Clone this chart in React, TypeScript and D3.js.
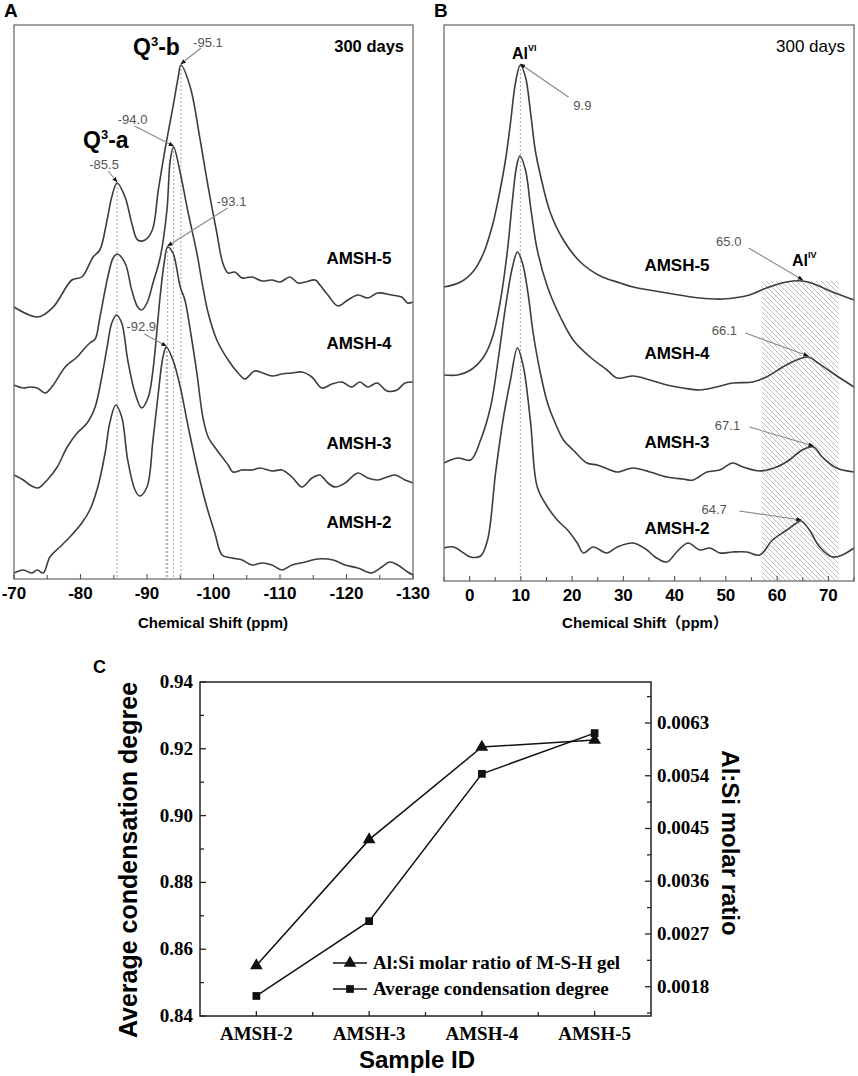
import { useEffect, useRef } from "react";
import * as d3 from "d3";

// panel A: 29Si spectra, [chemical shift ppm, stacked intensity a.u.]
const siAMSH5: [number, number][] = [
  [-70, 272], [-73.6, 262], [-75.9, 272], [-78.7, 299], [-80.2, 302], [-81.9, 322], [-82.9, 329],
  [-84.0, 359], [-84.7, 382], [-85.5, 396], [-86.7, 382], [-87.7, 356], [-88.6, 339], [-89.7, 339],
  [-90.8, 349], [-91.7, 389], [-92.7, 429], [-93.9, 472], [-94.7, 502], [-95.1, 514], [-96.5, 492],
  [-98.0, 439], [-99.2, 392], [-100.5, 346], [-101.4, 316], [-102.2, 306], [-103.2, 307], [-104.3, 301],
  [-105.8, 302], [-107.3, 298], [-108.8, 299], [-110.0, 297], [-111.5, 302], [-112.7, 296], [-113.8, 297],
  [-115.3, 299], [-116.0, 294], [-117.2, 284], [-118.7, 273], [-120.2, 279], [-121.7, 284], [-123.2, 281],
  [-124.7, 286], [-126.8, 284], [-128.3, 282], [-129.2, 276], [-130, 277],
];
const siAMSH4: [number, number][] = [
  [-70, 194], [-71.4, 191], [-72.4, 192], [-73.5, 191], [-74.7, 186], [-75.9, 194], [-77.7, 212],
  [-79.5, 222], [-80.4, 229], [-81.4, 236], [-82.2, 240], [-82.9, 261], [-84.1, 302], [-84.9, 321],
  [-85.5, 325], [-86.7, 316], [-87.7, 289], [-88.6, 272], [-89.2, 269], [-90.0, 276], [-90.9, 296],
  [-92.0, 322], [-93.0, 369], [-93.5, 419], [-94.0, 432], [-95.0, 406], [-96.2, 366], [-97.5, 326],
  [-98.4, 292], [-99.2, 266], [-100.5, 239], [-102.2, 219], [-103.7, 206], [-104.7, 200], [-106.2, 208],
  [-107.4, 206], [-108.8, 203], [-110.3, 205], [-111.8, 206], [-113.3, 207], [-114.8, 202], [-116.3, 191],
  [-117.8, 195], [-119.3, 197], [-120.8, 192], [-122.0, 197], [-123.2, 192], [-124.6, 196], [-126.1, 188],
  [-127.6, 189], [-128.8, 196], [-130, 197],
];
const siAMSH3: [number, number][] = [
  [-70, 104], [-71.4, 99], [-72.4, 94], [-73.6, 91], [-75.0, 99], [-76.5, 112], [-78.0, 132],
  [-79.5, 146], [-81.0, 156], [-82.2, 172], [-83.2, 202], [-84.0, 232], [-84.7, 256], [-85.4, 264],
  [-86.2, 256], [-87.1, 219], [-88.2, 186], [-89.2, 171], [-90.2, 182], [-90.9, 209], [-91.5, 249],
  [-92.0, 284], [-92.6, 317], [-93.1, 332], [-93.9, 326], [-95.0, 292], [-95.7, 279], [-96.5, 249],
  [-97.5, 206], [-98.4, 162], [-99.2, 142], [-100.5, 129], [-102.2, 114], [-102.9, 107], [-104.3, 109],
  [-105.8, 109], [-107.0, 111], [-108.8, 108], [-110.3, 109], [-111.8, 102], [-113.3, 92], [-114.8, 101],
  [-116.0, 104], [-117.2, 96], [-118.3, 92], [-119.8, 96], [-121.7, 106], [-123.2, 101], [-124.7, 99],
  [-126.1, 102], [-127.3, 104], [-128.8, 99], [-130, 96],
];
const siAMSH2: [number, number][] = [
  [-70, 6], [-71.4, 9], [-72.7, 6], [-73.5, 9], [-74.4, 6], [-75.4, 22], [-76.9, 32], [-78.4, 42],
  [-80.2, 56], [-81.4, 69], [-82.6, 92], [-83.7, 126], [-84.4, 156], [-85.3, 174], [-86.2, 162],
  [-87.1, 119], [-88.2, 89], [-88.9, 83], [-90.0, 92], [-90.9, 139], [-91.7, 186], [-92.4, 222],
  [-92.9, 232], [-93.9, 219], [-95.0, 192], [-96.2, 152], [-97.7, 106], [-99.0, 72], [-100.2, 46],
  [-101.3, 24], [-102.8, 21], [-104.3, 19], [-105.8, 14], [-107.3, 16], [-108.8, 14], [-110.3, 9],
  [-111.8, 14], [-113.8, 17], [-115.7, 20], [-118.0, 19], [-119.8, 14], [-121.7, 11], [-123.8, 6],
  [-125.3, 12], [-126.5, 17], [-127.7, 14], [-129.2, 7], [-130, 4],
];

// panel B: 27Al spectra
const alAMSH5: [number, number][] = [
  [-5, 294], [-1.75, 299], [0.78, 310], [2.72, 328], [4.47, 356], [5.64, 383], [7.0, 421], [7.97, 458],
  [8.94, 498], [9.9, 516], [10.9, 504], [11.9, 468], [12.8, 431], [13.8, 406], [15.7, 369], [18.3, 341],
  [21.6, 319], [25.5, 305], [29.4, 298], [31.9, 294], [38.5, 288], [44.9, 283], [49.4, 282], [54.6, 286],
  [57.9, 293], [61.8, 299], [65.0, 300], [67.7, 296], [70.8, 289], [75, 281],
];
const alAMSH4: [number, number][] = [
  [-5, 206], [-2.33, 206], [0.19, 211], [2.72, 224], [4.47, 244], [6.03, 281], [7.39, 331], [8.36, 381],
  [9.14, 414], [9.8, 425], [10.9, 411], [11.9, 374], [13.2, 331], [15.2, 294], [17.7, 264], [20.2, 241],
  [23.5, 224], [26.8, 211], [28.8, 203], [31.9, 205], [35.2, 201], [38.5, 196], [41.6, 193], [44.9, 191],
  [48.2, 194], [51.3, 198], [55.2, 199], [57.9, 204], [61.1, 214], [63.8, 221], [66.1, 224], [67.7, 219],
  [70.8, 208], [75, 194],
];
const alAMSH3: [number, number][] = [
  [-5, 118], [-2.33, 123], [0.19, 121], [2.14, 141], [4.08, 174], [5.64, 224], [7.0, 274], [8.36, 314],
  [9.33, 329], [10.3, 318], [11.3, 291], [12.4, 248], [13.8, 208], [15.2, 178], [16.7, 158], [18.3, 141],
  [20.2, 131], [22.9, 118], [24.9, 116], [27.4, 111], [28.8, 109], [31.9, 113], [35.2, 109], [38.5, 104],
  [41.6, 102], [43.6, 101], [46.3, 109], [48.8, 111], [51.3, 118], [53.3, 114], [56.6, 110], [59.9, 114],
  [62.4, 121], [64.9, 131], [67.1, 134], [68.8, 124], [71.6, 113], [75, 109],
];
const alAMSH2: [number, number][] = [
  [-5, 33], [-3.11, 34], [-1.17, 28], [0.19, 24], [2.14, 25], [3.5, 41], [5.06, 108], [6.61, 164],
  [7.97, 201], [9.33, 233], [10.5, 214], [11.9, 158], [13.2, 94], [15.2, 74], [17.1, 61], [19.1, 51],
  [21.0, 38], [22.2, 28], [24.1, 34], [26.8, 28], [28.8, 34], [31.9, 38], [34.6, 31], [36.2, 24],
  [38.5, 19], [40.4, 29], [42.6, 38], [44.9, 31], [46.9, 33], [48.8, 28], [51.3, 29], [54.1, 29],
  [56.6, 26], [59.1, 41], [61.9, 51], [63.8, 58], [64.7, 60], [66.3, 51], [68.3, 34], [70.8, 24],
  [72.7, 26], [75, 33],
];

const spectraNames = ["AMSH-5", "AMSH-4", "AMSH-3", "AMSH-2"];
const siTicks = [-70, -80, -90, -100, -110, -120, -130];
const alTicks = [0, 10, 20, 30, 40, 50, 60, 70];

// peak annotations: [ppm, a.u., label]
const siPeaks: [number, number, string][] = [
  [-95.1, 514, "-95.1"], [-94.0, 432, "-94.0"], [-85.5, 396, "-85.5"], [-93.1, 332, "-93.1"], [-92.9, 232, "-92.9"],
];
const alPeaks: [number, number, string][] = [
  [9.9, 516, "9.9"], [65.0, 300, "65.0"], [66.1, 224, "66.1"], [67.1, 134, "67.1"], [64.7, 60, "64.7"],
];
const alIVRange = [57, 72];

// panel C
const samples = ["AMSH-2", "AMSH-3", "AMSH-4", "AMSH-5"];
const alSiRatio = [0.00216, 0.00431, 0.00589, 0.00601];
const condensation = [0.846, 0.8684, 0.9125, 0.9247];
const leftTicks = [0.84, 0.86, 0.88, 0.9, 0.92, 0.94];
const rightTicks = [0.0018, 0.0027, 0.0036, 0.0045, 0.0054, 0.0063];

const SANS = "'Liberation Sans', Arial, 'Noto Sans CJK SC', sans-serif";
const SERIF = "'Liberation Serif', 'Times New Roman', serif";
const CURVE = "#3d3d3d";

export default function App() {
  const svgRef = useRef<SVGSVGElement>(null);

  useEffect(() => {
    const svg = d3.select(svgRef.current);
    svg.selectAll("*").remove();

    const defs = svg.append("defs");
    defs.append("marker").attr("id", "arr").attr("viewBox", "0 0 10 10")
      .attr("refX", 9).attr("refY", 5).attr("markerWidth", 5).attr("markerHeight", 5)
      .attr("orient", "auto")
      .append("path").attr("d", "M0,1 L10,5 L0,9 Z").attr("fill", "#111");
    const pat = defs.append("pattern").attr("id", "hatch").attr("patternUnits", "userSpaceOnUse")
      .attr("width", 5).attr("height", 5);
    pat.append("path").attr("d", "M0,0 L5,5 M-1,4 L1,6 M4,-1 L6,1")
      .attr("stroke", "#b4b4b4").attr("stroke-width", 0.9);

    const line = (x: any, y: any) =>
      d3.line<[number, number]>().x(d => x(d[0])).y(d => y(d[1])).curve(d3.curveCatmullRom.alpha(0.5));

    function spectrumPanel(opts: {
      left: number; right: number; top: number; bottom: number; domain: [number, number];
      series: [number, number][][]; ticks: number[]; minor: number; peaks: [number, number, string][];
      offsets: [number, number, number, number][]; labelX: number; labelY: number[];
      dotted: number[]; letter: string; title: string; titleX: number; daysBold: boolean;
    }) {
      const g = svg.append("g");
      const x = d3.scaleLinear().domain(opts.domain).range([opts.left, opts.right]);
      const y = d3.scaleLinear().domain([0, opts.bottom - opts.top]).range([opts.bottom, opts.top]);
      const pathLine = line(x, y);

      // dotted peak guides
      opts.peaks.forEach((p, i) => {
        if (!opts.dotted.includes(i)) return;
        g.append("line").attr("x1", x(p[0])).attr("x2", x(p[0])).attr("y1", y(p[1])).attr("y2", opts.bottom)
          .attr("stroke", "#a8a8a8").attr("stroke-width", 1).attr("stroke-dasharray", "2,2");
      });

      opts.series.forEach(s => {
        g.append("path").datum(s).attr("d", pathLine as any).attr("fill", "none")
          .attr("stroke", CURVE).attr("stroke-width", 1.6);
      });

      // frame
      g.append("rect").attr("x", opts.left).attr("y", opts.top)
        .attr("width", opts.right - opts.left).attr("height", opts.bottom - opts.top)
        .attr("fill", "none").attr("stroke", "#6e6e6e").attr("stroke-width", 1.3);

      // ticks
      const [d0, d1] = opts.domain;
      const lo = Math.min(d0, d1), hi = Math.max(d0, d1);
      for (let v = lo; v <= hi + 1e-6; v += opts.minor) {
        const major = opts.ticks.includes(Math.round(v));
        g.append("line").attr("x1", x(v)).attr("x2", x(v)).attr("y1", opts.bottom)
          .attr("y2", opts.bottom - (major ? 5 : 4)).attr("stroke", "#555").attr("stroke-width", 1.1);
      }
      opts.ticks.forEach(t => {
        g.append("text").attr("x", x(t)).attr("y", opts.bottom + 20).attr("text-anchor", "middle")
          .attr("font-family", SANS).attr("font-weight", "bold").attr("font-size", 17).text(t);
      });
      g.append("text").attr("x", opts.titleX).attr("y", 628).attr("text-anchor", "middle")
        .attr("font-family", SANS).attr("font-weight", "bold").attr("font-size", 15).text(opts.title);

      // annotations
      opts.peaks.forEach((p, i) => {
        const [tx, ty, lx] = [opts.offsets[i][0], opts.offsets[i][1], opts.offsets[i][2]];
        const px = x(p[0]), py = y(p[1]);
        g.append("line").attr("x1", px + lx).attr("y1", py + opts.offsets[i][3])
          .attr("x2", px).attr("y2", py - 1).attr("stroke", "#888").attr("stroke-width", 1.1)
          .attr("marker-end", "url(#arr)");
        g.append("text").attr("x", px + tx).attr("y", py + ty + 5).attr("text-anchor", "middle")
          .attr("font-family", SANS).attr("font-size", 13).attr("fill", "#555").text(p[2]);
      });

      spectraNames.forEach((n, i) => {
        g.append("text").attr("x", opts.labelX).attr("y", opts.labelY[i]).attr("text-anchor", "middle")
          .attr("font-family", SANS).attr("font-weight", "bold").attr("font-size", 17).text(n);
      });

      g.append("text").attr("x", opts.left - 10).attr("y", 17).attr("font-family", SANS)
        .attr("font-weight", "bold").attr("font-size", 19).text(opts.letter);
      g.append("text").attr("x", opts.right - 9).attr("y", 52).attr("text-anchor", "end")
        .attr("font-family", SANS).attr("font-weight", opts.daysBold ? "bold" : "normal")
        .attr("font-size", opts.daysBold ? 16.5 : 17).text("300 days");
      return { g, x, y };
    }

    // ---------- panel A ----------
    const A = spectrumPanel({
      left: 14, right: 413, top: 25, bottom: 579, domain: [-70, -130],
      series: [siAMSH5, siAMSH4, siAMSH3, siAMSH2], ticks: siTicks, minor: 5, peaks: siPeaks,
      offsets: [[27, -23, 20, -17], [-41, -28, -39, -21], [-13, -19, -9, -12], [64, -46, 60, -39], [-25, -21, -22, -13]],
      labelX: 359, labelY: [264, 349, 449, 528], dotted: [0, 1, 2, 3, 4],
      letter: "A", title: "Chemical Shift (ppm)", titleX: 213, daysBold: true,
    });
    const qLabel = (tx: number, ty: number, suffix: string) => {
      const t = A.g.append("text").attr("x", tx).attr("y", ty).attr("font-family", SANS)
        .attr("font-weight", "bold").attr("font-size", 23);
      t.append("tspan").text("Q");
      t.append("tspan").attr("font-size", 13).attr("dy", -9).text("3");
      t.append("tspan").attr("dy", 9).text(suffix);
    };
    qLabel(133, 55, "-b");
    qLabel(83, 148, "-a");

    // ---------- panel B ----------
    const B = spectrumPanel({
      left: 444, right: 854, top: 25, bottom: 581, domain: [-5, 75],
      series: [alAMSH5, alAMSH4, alAMSH3, alAMSH2], ticks: alTicks, minor: 5, peaks: alPeaks,
      offsets: [[62, 40, 48, 32], [-74, -40, -54, -33], [-84, -27, -63, -24], [-86, -22, -64, -20], [-87, -12, -62, -10]],
      labelX: 677, labelY: [271, 359, 448, 534], dotted: [0],
      letter: "B", title: "Chemical Shift（ppm）", titleX: 645, daysBold: false,
    });
    B.g.insert("rect", ":first-child")
      .attr("x", B.x(alIVRange[0])).attr("width", B.x(alIVRange[1]) - B.x(alIVRange[0]))
      .attr("y", B.y(300)).attr("height", 581 - B.y(300)).attr("fill", "url(#hatch)");
    const alLabel = (tx: number, ty: number, sup: string) => {
      const t = B.g.append("text").attr("x", tx).attr("y", ty).attr("font-family", SANS)
        .attr("font-weight", "bold").attr("font-size", 16);
      t.append("tspan").text("Al");
      t.append("tspan").attr("font-size", 9).attr("dy", -8).text(sup);
    };
    alLabel(512, 59, "VI");
    alLabel(792, 266, "IV");

    // ---------- panel C ----------
    const cL = 200, cR = 651, cT = 682, cB = 1016;
    const gc = svg.append("g");
    const xC = d3.scalePoint<string>().domain(samples).range([cL, cR]).padding(0.5);
    const yL = d3.scaleLinear().domain([0.84, 0.94]).range([cB, cT]);
    const yR = d3.scaleLinear().domain([0.0013, 0.007]).range([cB, cT]);

    gc.append("rect").attr("x", cL).attr("y", cT).attr("width", cR - cL).attr("height", cB - cT)
      .attr("fill", "none").attr("stroke", "#222").attr("stroke-width", 1.5);

    const tick = (x1: number, y1: number, x2: number, y2: number) =>
      gc.append("line").attr("x1", x1).attr("y1", y1).attr("x2", x2).attr("y2", y2)
        .attr("stroke", "#222").attr("stroke-width", 1.3);

    leftTicks.forEach(t => {
      tick(cL, yL(t), cL + 6, yL(t));
      gc.append("text").attr("x", cL - 7).attr("y", yL(t) + 6).attr("text-anchor", "end")
        .attr("font-family", SERIF).attr("font-weight", "bold").attr("font-size", 19).text(t.toFixed(2));
    });
    d3.range(0.85, 0.94, 0.02).forEach(t => tick(cL, yL(t), cL + 4, yL(t)));

    rightTicks.forEach(t => {
      tick(cR, yR(t), cR - 6, yR(t));
      gc.append("text").attr("x", cR + 6).attr("y", yR(t) + 6)
        .attr("font-family", SERIF).attr("font-weight", "bold").attr("font-size", 19).text(t.toFixed(4));
    });
    rightTicks.concat([0.0072]).forEach(t => tick(cR, yR(t - 0.00045), cR - 4, yR(t - 0.00045)));

    const step = xC.step();
    samples.forEach(s => {
      tick(xC(s)!, cB, xC(s)!, cB - 5);
      gc.append("text").attr("x", xC(s)!).attr("y", cB + 24).attr("text-anchor", "middle")
        .attr("font-family", SERIF).attr("font-weight", "bold").attr("font-size", 19).text(s);
    });
    samples.slice(1).forEach(s => tick(xC(s)! - step / 2, cB, xC(s)! - step / 2, cB - 4));

    const triangle = d3.symbol().type(d3.symbolTriangle).size(70);
    const square = d3.symbol().type(d3.symbolSquare).size(60);

    const ratioLine = d3.line<number>().x((_, i) => xC(samples[i])!).y(d => yR(d));
    const condLine = d3.line<number>().x((_, i) => xC(samples[i])!).y(d => yL(d));
    gc.append("path").datum(alSiRatio).attr("d", ratioLine).attr("fill", "none")
      .attr("stroke", "#111").attr("stroke-width", 1.5);
    gc.append("path").datum(condensation).attr("d", condLine).attr("fill", "none")
      .attr("stroke", "#111").attr("stroke-width", 1.5);
    alSiRatio.forEach((v, i) => gc.append("path").attr("d", triangle()!)
      .attr("transform", `translate(${xC(samples[i])},${yR(v)})`).attr("fill", "#111"));
    condensation.forEach((v, i) => gc.append("path").attr("d", square()!)
      .attr("transform", `translate(${xC(samples[i])},${yL(v)})`).attr("fill", "#111"));

    // legend
    const legend = [
      { label: "Al:Si molar ratio of M-S-H gel", sym: triangle, y: 963 },
      { label: "Average condensation degree", sym: square, y: 989 },
    ];
    legend.forEach(l => {
      gc.append("line").attr("x1", 333).attr("x2", 367).attr("y1", l.y).attr("y2", l.y)
        .attr("stroke", "#111").attr("stroke-width", 1.5);
      gc.append("path").attr("d", l.sym()!).attr("transform", `translate(350,${l.y})`).attr("fill", "#111");
      gc.append("text").attr("x", 373).attr("y", l.y + 6).attr("font-family", SERIF)
        .attr("font-weight", "bold").attr("font-size", 19).text(l.label);
    });

    gc.append("text").attr("transform", `translate(137,860) rotate(-90)`).attr("text-anchor", "middle")
      .attr("font-family", SANS).attr("font-weight", "bold").attr("font-size", 25).text("Average condensation degree");
    gc.append("text").attr("transform", `translate(722,843) rotate(90)`).attr("text-anchor", "middle")
      .attr("font-family", SANS).attr("font-weight", "bold").attr("font-size", 24).text("Al:Si molar ratio");
    gc.append("text").attr("x", 417).attr("y", 1068).attr("text-anchor", "middle")
      .attr("font-family", SANS).attr("font-weight", "bold").attr("font-size", 24).text("Sample ID");
    gc.append("text").attr("x", 93).attr("y", 673).attr("font-family", SANS)
      .attr("font-weight", "bold").attr("font-size", 18).text("C");
  }, []);

  return (
    <svg ref={svgRef} width={858} height={1076}
      style={{ position: "absolute", left: 0, top: 0, background: "#fff" }} />
  );
}
